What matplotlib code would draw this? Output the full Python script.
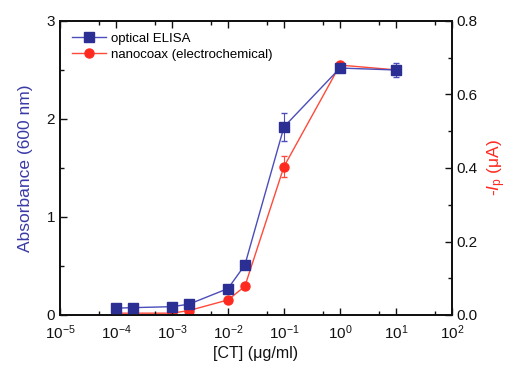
import matplotlib
matplotlib.use("Agg")
import matplotlib.pyplot as plt
from matplotlib.lines import Line2D
from matplotlib.ticker import LogLocator, MultipleLocator, NullFormatter, LogFormatterSciNotation, FormatStrFormatter

plt.rcParams['font.family'] = ['Liberation Sans', 'DejaVu Sans']
plt.rcParams['mathtext.fontset'] = 'custom'
plt.rcParams['mathtext.rm'] = 'Liberation Sans'
plt.rcParams['mathtext.it'] = 'Liberation Sans:italic'

# Data
conc = [1e-4, 2e-4, 1e-3, 2e-3, 1e-2, 2e-2, 1e-1, 1, 10]
elisa = [0.07, 0.075, 0.085, 0.11, 0.27, 0.51, 1.92, 2.52, 2.50]
elisa_err = [0.01, 0.01, 0.01, 0.01, 0.01, 0.01, 0.14, 0.04, 0.07]
nanocoax = [0.005, 0.005, 0.005, 0.012, 0.041, 0.078, 0.404, 0.680, 0.667]
nanocoax_err = [0.002, 0.002, 0.002, 0.002, 0.003, 0.003, 0.029, 0.005, 0.01]

blue = '#2B2E92'
blue_line = '#4A4DBA'
red = '#FF2A1F'
red_line = '#FF4A3A'

fig = plt.figure(figsize=(5.10, 3.67), dpi=100)
ax = fig.add_axes([60/510, 1-315/367, (452-60)/510, (315-21)/367])
ax2 = ax.twinx()

ax.errorbar(conc, elisa, yerr=elisa_err, color=blue_line, marker='s', markersize=6.5,
            markerfacecolor=blue, markeredgecolor=blue, lw=1.0, capsize=2.5, elinewidth=0.8,
            ecolor=blue_line, zorder=3)
ax2.errorbar(conc, nanocoax, yerr=nanocoax_err, color=red_line, marker='o', markersize=6.5,
             markerfacecolor=red, markeredgecolor=red, lw=1.0, capsize=2.5, elinewidth=0.8,
             ecolor=red_line, zorder=2)

ax.set_zorder(ax2.get_zorder() + 1)
ax.patch.set_visible(False)

ax.set_xscale('log')
ax.set_xlim(1e-5, 1e2)
ax.set_ylim(0, 3)
ax2.set_ylim(0, 0.8)

ax.xaxis.set_major_locator(LogLocator(base=10, subs=[1.0], numticks=20))
ax.xaxis.set_minor_locator(LogLocator(base=10, subs=[5.0], numticks=20))
ax.xaxis.set_major_formatter(LogFormatterSciNotation())
ax.xaxis.set_minor_formatter(NullFormatter())
ax.yaxis.set_major_locator(MultipleLocator(1))
ax.yaxis.set_minor_locator(MultipleLocator(0.5))
ax2.yaxis.set_major_locator(MultipleLocator(0.2))
ax2.yaxis.set_minor_locator(MultipleLocator(0.1))
ax2.yaxis.set_major_formatter(FormatStrFormatter('%.1f'))

for a in (ax, ax2):
    for s in a.spines.values():
        s.set_linewidth(1.3)
        s.set_color('#111111')
ax.tick_params(which='both', direction='in', top=True, labelsize=11, width=1.0, colors='#111111')
ax.tick_params(which='major', length=5)
ax.tick_params(which='minor', length=3)
ax.tick_params(axis='x', which='major', pad=6)
ax.tick_params(axis='y', which='both', right=False)
ax2.tick_params(which='both', direction='in', labelsize=11, width=1.0, colors='#111111')
ax2.tick_params(which='major', length=5)
ax2.tick_params(which='minor', length=3)

ax.set_xlabel('[CT] (μg/ml)', fontsize=11.5, color='#111111', labelpad=3)
ax.set_ylabel('Absorbance (600 nm)', fontsize=12.5, color='#3A3AA8', labelpad=10)
ax2.set_ylabel(r'-$\mathit{I}_{\mathrm{p}}$ (μA)', fontsize=12.5, color='#FF2A1F', labelpad=5)

handles = [
    Line2D([], [], color=blue_line, lw=1.0, marker='s', markersize=6.5,
           markerfacecolor=blue, markeredgecolor=blue),
    Line2D([], [], color=red_line, lw=1.0, marker='o', markersize=6.5,
           markerfacecolor=red, markeredgecolor=red),
]
ax.legend(handles, ['optical ELISA', 'nanocoax (electrochemical)'], loc='upper left',
          frameon=False, fontsize=9.5, handlelength=2.6, handletextpad=0.4,
          labelspacing=0.25, borderaxespad=0.5)

fig.savefig('out.png', dpi=100)
